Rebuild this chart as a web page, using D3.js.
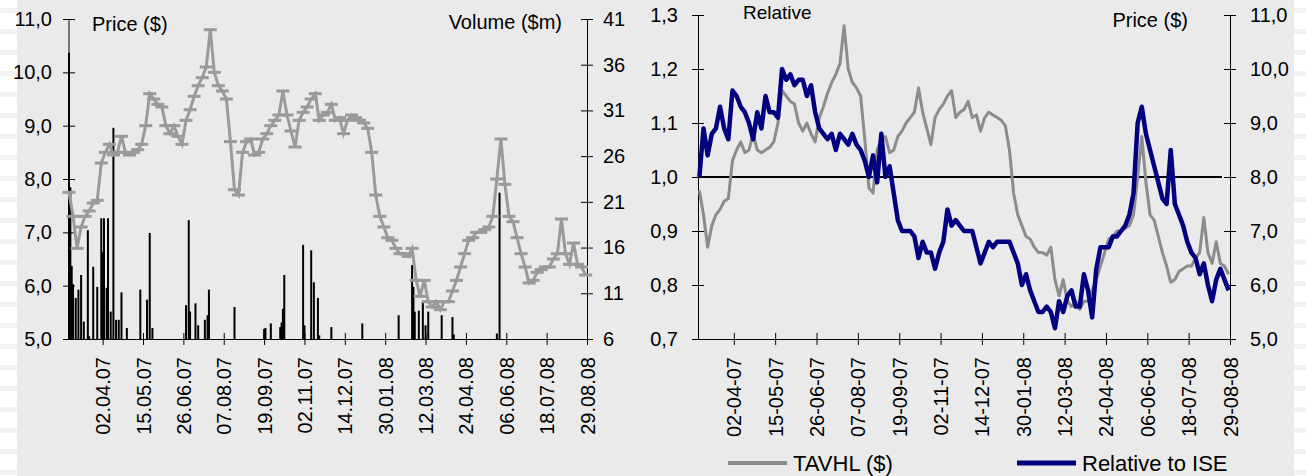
<!DOCTYPE html>
<html>
<head>
<meta charset="utf-8">
<script src="https://cdn.jsdelivr.net/npm/d3@7"></script>
<style>
  body { margin: 0; background: #fff; }
  text { font-family: "Liberation Sans", Arial, sans-serif; fill: #000; }
</style>
</head>
<body>
<div id="container"></div>
<script>
/* DATA */
// trading-day index of every 3rd day, 0 = first listing day
const step = 3;
const tickIdx = [25, 55, 85, 115, 145, 175, 205, 235, 265, 295, 325, 355, 385];
const tickDots = ["02.04.07","15.05.07","26.06.07","07.08.07","19.09.07","02.11.07","14.12.07",
                  "30.01.08","12.03.08","24.04.08","06.06.08","18.07.08","29.08.08"];
const tickDashes = tickDots.map(s => s.replace(/\./g, "-"));

// closing price ($)
const price = [
  7.75,7.3,6.7,7.1,7.3,7.4,7.55,7.6,8.3,8.5,
  8.65,8.45,8.5,8.8,8.5,8.45,8.5,8.55,8.65,9.0,
  9.6,9.5,9.4,9.35,9.0,8.85,9.0,8.8,8.65,9.1,
  9.3,9.55,9.75,9.9,10.1,10.8,10.0,9.75,9.65,9.5,
  8.7,7.8,7.7,8.5,8.7,8.75,8.45,8.5,8.75,8.85,
  9.0,9.1,9.2,9.65,9.2,8.9,8.6,9.1,9.25,9.35,
  9.5,9.6,9.1,9.2,9.25,9.4,9.1,9.15,8.85,9.1,
  9.2,9.15,9.1,9.05,8.95,8.5,7.7,7.3,7.1,6.9,
  6.85,6.7,6.6,6.6,6.55,6.7,6.1,5.8,6.1,5.7,
  5.6,5.7,5.55,5.7,5.7,5.9,6.1,6.35,6.6,6.85,
  6.9,7.0,7.0,7.05,7.1,7.3,8.0,8.75,7.9,7.3,
  7.2,6.9,6.6,6.35,6.05,6.1,6.25,6.3,6.35,6.35,
  6.5,6.6,7.25,6.6,6.4,6.8,6.4,6.35,6.2
];

// price relative to ISE
const relative = [
  1.00,1.09,1.04,1.08,1.09,1.13,1.09,1.07,1.16,1.15,
  1.13,1.12,1.10,1.07,1.12,1.09,1.15,1.12,1.12,1.11,
  1.20,1.18,1.19,1.17,1.18,1.18,1.15,1.17,1.12,1.09,
  1.08,1.07,1.08,1.05,1.08,1.07,1.06,1.08,1.06,1.05,
  1.03,1.00,1.04,0.99,1.08,1.00,1.02,0.97,0.92,0.90,
  0.90,0.90,0.89,0.85,0.88,0.86,0.86,0.83,0.86,0.88,
  0.94,0.91,0.92,0.91,0.90,0.90,0.90,0.87,0.84,0.86,
  0.88,0.87,0.88,0.88,0.88,0.88,0.86,0.84,0.80,0.82,
  0.79,0.77,0.75,0.75,0.76,0.75,0.72,0.77,0.75,0.78,
  0.79,0.76,0.76,0.82,0.79,0.74,0.83,0.87,0.87,0.87,
  0.89,0.89,0.90,0.91,0.93,0.97,1.10,1.13,1.08,1.05,
  1.02,0.99,0.96,0.95,1.05,0.95,0.93,0.91,0.88,0.86,
  0.85,0.82,0.84,0.80,0.77,0.81,0.83,0.81,0.79
];

// traded volume ($m), by trading-day index
const volIdx = [0,1,2,3,5,7,9,11,14,15,18,21,24,25,26,28,29,31,33,35,37,39,43,53,58,60,62,87,89,90,
                94,96,101,103,104,123,145,146,150,157,158,159,160,174,175,180,182,185,186,195,
                218,245,255,256,257,260,263,265,267,277,285,286,318,320];
const volume = [37.3,22.6,14,12,10.5,11.4,13,7.9,17.9,6.3,13.9,11.7,19.2,15.5,19.2,11.6,19.2,9,29.1,8.1,
                8.1,11.1,7.2,11.4,10.3,17.6,7.2,9.7,19,9,9.9,7.5,8.1,8.6,11.4,9.5,7.1,7.2,7.7,7.3,
                7.8,9.3,13,16.3,7.5,15.7,12.2,10.5,6.4,7.3,7.7,8.6,14.1,11.7,9,9.1,10,7.5,9,8.6,
                8.4,6.5,6.6,22];

const priceTicks = [5, 6, 7, 8, 9, 10, 11];
const volTicks = [6, 11, 16, 21, 26, 31, 36, 41];
const relTicks = [0.7, 0.8, 0.9, 1.0, 1.1, 1.2, 1.3];

/* CONSTANTS */
const width = 1306, height = 476;
const comma1 = d => d3.format(".1f")(d).replace(".", ",");

const svg = d3.select("#container").append("svg")
  .attr("width", width).attr("height", height);

// slide background
svg.append("rect").attr("width", width).attr("height", height).attr("fill", "#fff");
svg.append("g").selectAll("rect")
  .data(d3.range(8, height, 21))
  .join("rect")
  .attr("x", 0).attr("y", d => d).attr("width", width).attr("height", 5)
  .attr("fill", "#f2f2f2");
svg.append("rect").attr("x", 17).attr("y", 0).attr("width", 1277).attr("height", height)
  .attr("fill", "#eaeaea");

function crossTicks(g, horizontal) {
  g.select(".domain").attr("stroke", "#000");
  g.selectAll(".tick line").attr("stroke", "#000");
  if (horizontal) g.selectAll(".tick line").attr("x1", -6).attr("x2", 6);
  else g.selectAll(".tick line").attr("y1", -6).attr("y2", 6);
  g.selectAll(".tick text").style("font-size", "20px").attr("fill", "#000");
}

/* LEFT PANEL */
const xL = d3.scaleLinear().domain([0, 385]).range([69, 587]);
const yL = d3.scaleLinear().domain([5, 11]).range([339, 19]);
const yV = d3.scaleLinear().domain([6, 41]).range([339, 19]);

svg.append("g").attr("transform", "translate(69,0)")
  .call(d3.axisLeft(yL).tickValues(priceTicks).tickFormat(comma1).tickSizeOuter(0).tickPadding(11))
  .call(g => crossTicks(g, true))
  .call(g => g.select(".domain").remove());
svg.append("line").attr("x1", 69).attr("x2", 69).attr("y1", yL(11)).attr("y2", yL(5)).attr("stroke", "#000");

svg.append("g").attr("transform", "translate(587,0)")
  .call(d3.axisRight(yV).tickValues(volTicks).tickFormat(d3.format("d")).tickSizeOuter(0).tickPadding(10))
  .call(g => crossTicks(g, true));

// volume bars
svg.append("g").selectAll("rect")
  .data(volIdx.map((d, i) => ({ idx: d, v: volume[i] })))
  .join("rect")
  .attr("x", d => xL(d.idx) - 1)
  .attr("width", 2)
  .attr("y", d => yV(d.v))
  .attr("height", d => yV(6) - yV(d.v))
  .attr("fill", "#000");

const xAxisL = svg.append("g").attr("transform", "translate(0,339)")
  .call(d3.axisBottom(xL).tickValues(tickIdx).tickFormat((d, i) => tickDots[i]).tickSizeOuter(0))
  .call(g => crossTicks(g, false));
xAxisL.selectAll(".tick text")
  .attr("transform", "rotate(-90)")
  .attr("text-anchor", "end")
  .attr("x", -18).attr("y", 0).attr("dy", "0.35em");

// price line with dash markers
svg.append("path")
  .datum(price)
  .attr("fill", "none")
  .attr("stroke", "#9a9a9a")
  .attr("stroke-width", 3)
  .attr("d", d3.line().x((d, i) => xL(i * step)).y(d => yL(d)));
svg.append("g").selectAll("rect")
  .data(price)
  .join("rect")
  .attr("x", (d, i) => xL(i * step) - 6.5)
  .attr("y", d => yL(d) - 1.5)
  .attr("width", 13).attr("height", 3)
  .attr("fill", "#9a9a9a");

svg.append("text").attr("x", 92).attr("y", 31).style("font-size", "20px").text("Price ($)");
svg.append("text").attr("x", 562).attr("y", 29).attr("text-anchor", "end").style("font-size", "20px").text("Volume ($m)");

/* RIGHT PANEL */
const xR = d3.scaleLinear().domain([-1, 385]).range([698, 1230]);
const yRel = d3.scaleLinear().domain([0.7, 1.3]).range([339, 15]);
const yP = d3.scaleLinear().domain([5, 11]).range([339, 15]);

svg.append("g").attr("transform", "translate(698,0)")
  .call(d3.axisLeft(yRel).tickValues(relTicks).tickFormat(comma1).tickSizeOuter(0).tickPadding(14))
  .call(g => crossTicks(g, true));
svg.append("g").attr("transform", "translate(1230,0)")
  .call(d3.axisRight(yP).tickValues(priceTicks).tickFormat(comma1).tickSizeOuter(0).tickPadding(14))
  .call(g => crossTicks(g, true));

const xAxisR = svg.append("g").attr("transform", "translate(0,339)")
  .call(d3.axisBottom(xR).tickValues(tickIdx).tickFormat((d, i) => tickDashes[i]).tickSizeOuter(0))
  .call(g => crossTicks(g, false));
xAxisR.selectAll(".tick text")
  .attr("transform", "rotate(-90)")
  .attr("text-anchor", "end")
  .attr("x", -18).attr("y", 0).attr("dy", "0.35em");

// parity line
svg.append("line")
  .attr("x1", xR.range()[0]).attr("x2", xR.range()[1] - 8)
  .attr("y1", yRel(1)).attr("y2", yRel(1))
  .attr("stroke", "#000").attr("stroke-width", 2);

svg.append("path")
  .datum(price)
  .attr("fill", "none")
  .attr("stroke", "#8c8c8c")
  .attr("stroke-width", 3)
  .attr("stroke-linejoin", "round")
  .attr("d", d3.line().x((d, i) => xR(i * step)).y(d => yP(d)));

svg.append("path")
  .datum(relative)
  .attr("fill", "none")
  .attr("stroke", "#000080")
  .attr("stroke-width", 4.5)
  .attr("stroke-linejoin", "round")
  .attr("d", d3.line().x((d, i) => xR(i * step)).y(d => yRel(d)));

svg.append("text").attr("x", 743).attr("y", 19).style("font-size", "19px").text("Relative");
svg.append("text").attr("x", 1188).attr("y", 27).attr("text-anchor", "end").style("font-size", "20px").text("Price ($)");

// legend
const legend = [
  { name: "TAVHL ($)", color: "#8c8c8c", w: 4, x: 728 },
  { name: "Relative to ISE", color: "#000080", w: 5, x: 1017 }
];
const lg = svg.append("g").selectAll("g").data(legend).join("g")
  .attr("transform", d => `translate(${d.x},463)`);
lg.append("line").attr("x1", 0).attr("x2", 59).attr("stroke", d => d.color).attr("stroke-width", d => d.w);
lg.append("text").attr("x", 65).attr("y", 8).style("font-size", "22px").text(d => d.name);
</script>
</body>
</html>
